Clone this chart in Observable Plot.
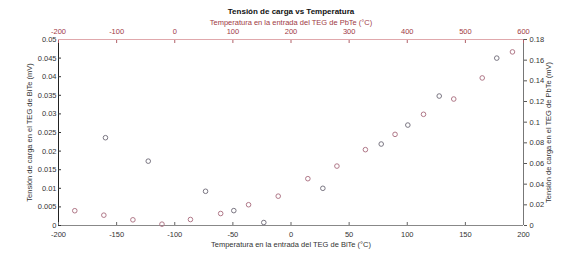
<!DOCTYPE html>
<html>
<head>
<meta charset="utf-8">
<script src="https://cdn.jsdelivr.net/npm/d3@7"></script>
<script src="https://cdn.jsdelivr.net/npm/@observablehq/plot@0.6"></script>
<style>
  body { margin: 0; background: #fff; }
  #wrap { position: relative; width: 566px; height: 257px; }
  #wrap svg { position: absolute; left: 0; top: 0; background: transparent; }
</style>
</head>
<body>
<div id="wrap"></div>
<script>
// BiTe series (bottom x axis, left y axis)
const biteTemp = [-159.6, -122.8, -73.5, -49.2, -23.4, 27.4, 77.6, 100.5, 127.5, 177];
const biteVolt = [0.0236, 0.0173, 0.0092, 0.0040, 0.0008, 0.0100, 0.0219, 0.0270, 0.0348, 0.0450];
// PbTe series (top x axis, right y axis)
const pbteTemp = [-172, -122, -72, -22, 27, 79, 127, 178, 229, 279, 328, 379, 428, 480, 529, 581];
const pbteVolt = [0.0143, 0.0100, 0.0055, 0.0013, 0.0058, 0.0116, 0.0201, 0.0284, 0.0453, 0.0575, 0.0734, 0.0882, 0.1076, 0.1224, 0.1428, 0.168];
// tick labels
const bottomTicks = [-200, -150, -100, -50, 0, 50, 100, 150, 200];
const leftTicks = [0, 0.005, 0.01, 0.015, 0.02, 0.025, 0.03, 0.035, 0.04, 0.045, 0.05];
const topTicks = [-200, -100, 0, 100, 200, 300, 400, 500, 600];
const rightTicks = [0, 0.02, 0.04, 0.06, 0.08, 0.1, 0.12, 0.14, 0.16, 0.18];

const title = "Tensión de carga vs Temperatura";
const labelBottom = "Temperatura en la entrada del TEG de BiTe (°C)";
const labelLeft = "Tensión de carga en el TEG de BiTe (mV)";
const labelTop = "Temperatura en la entrada del TEG de PbTe (°C)";
const labelRight = "Tensión de carga en el TEG de PbTe (mV)";

const bite = biteTemp.map((t, i) => ({t, v: biteVolt[i]}));
const pbte = pbteTemp.map((t, i) => ({t, v: pbteVolt[i]}));

const fmt = d => String(+d.toFixed(4));
const common = {
  width: 566, height: 257,
  marginLeft: 58, marginRight: 43, marginTop: 39, marginBottom: 32,
  style: {fontFamily: "'Liberation Sans', Arial, sans-serif", fontSize: "7px", background: "transparent", overflow: "visible"}
};

const p1 = Plot.plot({
  ...common,
  x: {domain: [-200, 200]},
  y: {domain: [0, 0.05]},
  marks: [
    Plot.ruleY([0], {stroke: "#888"}),
    Plot.ruleX([-200], {stroke: "#222"}),
    Plot.axisX(bottomTicks, {anchor: "bottom", tickSize: -3, tickPadding: 9, stroke: "#666", fill: "#333", tickFormat: d => String(d),
      label: labelBottom, labelAnchor: "center", labelArrow: "none", labelOffset: 21, fontSize: 7.5}),
    Plot.axisY(leftTicks, {anchor: "left", tickSize: -3, tickPadding: 5, stroke: "#333", fill: "#333", tickFormat: fmt,
      label: labelLeft, labelAnchor: "center", labelArrow: "none", labelOffset: 32, fontSize: 7.5}),
    Plot.dot(bite, {x: "t", y: "v", r: 2.3, stroke: "#7a7682", strokeWidth: 1}),
    Plot.text([title], {frameAnchor: "top", dy: -31, fontWeight: "bold", fontSize: 8, fill: "#111"})
  ]
});

const p2 = Plot.plot({
  ...common,
  x: {domain: [-200, 600]},
  y: {domain: [0, 0.18]},
  marks: [
    Plot.ruleY([0.18], {stroke: "#e0a8ac"}),
    Plot.ruleX([600], {stroke: "#777"}),
    Plot.axisX(topTicks, {anchor: "top", tickSize: -3, tickPadding: 8.5, stroke: "#b06068", fill: "#a03a45", tickFormat: d => String(d),
      label: labelTop, labelAnchor: "center", labelArrow: "none", labelOffset: 19.5, fontSize: 7.5}),
    Plot.axisY(rightTicks, {anchor: "right", tickSize: 3, tickPadding: 3, stroke: "#555", fill: "#333", tickFormat: fmt,
      label: labelRight, labelAnchor: "center", labelArrow: "none", labelOffset: 27, fontSize: 7.5}),
    Plot.dot(pbte, {x: "t", y: "v", r: 2.3, stroke: "#b07888", strokeWidth: 1})
  ]
});

const wrap = document.getElementById("wrap");
wrap.appendChild(p1);
wrap.appendChild(p2);
</script>
</body>
</html>
